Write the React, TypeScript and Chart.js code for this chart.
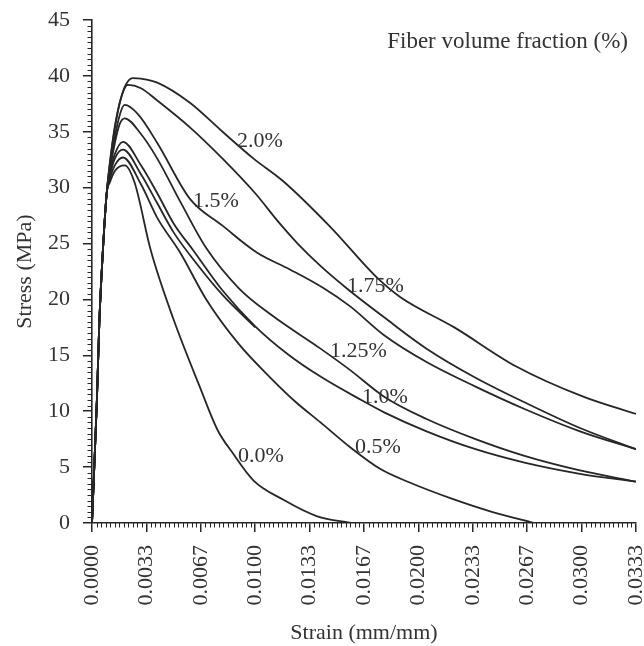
import React, { useEffect, useRef } from 'react';
import { Chart, registerables } from 'chart.js';

Chart.register(...registerables);

const FONT = "'Liberation Serif', 'Times New Roman', serif";
const INK = '#262626';
const TEXT = '#333333';

// Tick labels
const X_TICK_LABELS = ['0.0000', '0.0033', '0.0067', '0.0100', '0.0133', '0.0167', '0.0200', '0.0233', '0.0267', '0.0300', '0.0333'];
const Y_TICK_VALUES = [0, 5, 10, 15, 20, 25, 30, 35, 40, 45];
const X_MAX = 1 / 30;
const Y_MAX = 45;

// Series: strain (mm/mm) and stress (MPa)
const S200_X = [0, 0.0003, 0.00045, 0.00068, 0.0009, 0.0011, 0.0014, 0.0017, 0.002, 0.0025, 0.003, 0.004, 0.006, 0.008, 0.0099, 0.0117, 0.0146, 0.0175, 0.0189, 0.0222, 0.026, 0.0301, 0.03333];
const S200_Y = [0, 11, 18, 24.7, 29.5, 32.3, 35.5, 37.6, 39.0, 39.8, 39.75, 39.4, 37.6, 35.0, 32.6, 30.6, 26.5, 21.9, 20.2, 17.5, 14.0, 11.3, 9.75];

const S175_X = [0, 0.0003, 0.00045, 0.00068, 0.0009, 0.0011, 0.0014, 0.0017, 0.0022, 0.003, 0.004, 0.006, 0.008, 0.01, 0.0115, 0.0126, 0.014, 0.0156, 0.0179, 0.0205, 0.0235, 0.0265, 0.0299, 0.03333];
const S175_Y = [0, 11, 18, 24.7, 29.5, 32.2, 35.3, 37.6, 39.2, 38.9, 37.8, 35.4, 32.6, 29.5, 26.8, 25.0, 23.0, 21.0, 18.4, 15.6, 13.0, 10.8, 8.5, 6.6];

const S150_X = [0, 0.0003, 0.00045, 0.00068, 0.0009, 0.0011, 0.0014, 0.0017, 0.002, 0.0028, 0.004, 0.006, 0.008, 0.0101, 0.0121, 0.0142, 0.0158, 0.0179, 0.0205, 0.0235, 0.0265, 0.0299, 0.03333];
const S150_Y = [0, 11, 18, 24.7, 29.5, 31.8, 34.5, 36.5, 37.4, 36.6, 34.0, 29.0, 26.6, 24.2, 22.7, 21.0, 19.4, 16.8, 14.4, 12.2, 10.2, 8.2, 6.6];

const S125_X = [0, 0.0003, 0.00045, 0.00068, 0.0009, 0.0011, 0.0014, 0.0017, 0.002, 0.003, 0.004, 0.0055, 0.007, 0.009, 0.011, 0.014, 0.0158, 0.0179, 0.0205, 0.0235, 0.0265, 0.0299, 0.03333];
const S125_Y = [0, 11, 18, 24.7, 29.5, 31.6, 34.0, 35.7, 36.2, 34.8, 32.6, 28.5, 24.6, 21.0, 18.6, 15.6, 13.7, 11.3, 9.3, 7.5, 6.0, 4.7, 3.7];

const S100_X = [0, 0.0003, 0.00045, 0.00068, 0.0009, 0.0011, 0.0014, 0.0019, 0.003, 0.004, 0.005, 0.0062, 0.008, 0.01, 0.012, 0.014, 0.0165, 0.0179, 0.0205, 0.0235, 0.0265, 0.0299, 0.03333];
const S100_Y = [0, 11, 18, 24.7, 29.5, 31.3, 33.0, 34.1, 32.0, 29.5, 26.8, 24.4, 20.8, 17.6, 15.1, 13.1, 11.0, 9.9, 8.2, 6.6, 5.4, 4.4, 3.7];

const S075_X = [0, 0.0003, 0.00045, 0.00068, 0.0009, 0.0011, 0.0014, 0.0019, 0.003, 0.004, 0.005, 0.0062, 0.008, 0.01];
const S075_Y = [0, 11, 18, 24.7, 29.5, 31.1, 32.6, 33.4, 31.2, 28.6, 26.0, 23.6, 20.4, 17.5];

const S050_X = [0, 0.0003, 0.00045, 0.00068, 0.0009, 0.0011, 0.0014, 0.0019, 0.003, 0.004, 0.0054, 0.007, 0.009, 0.011, 0.0125, 0.014, 0.0158, 0.0177, 0.0195, 0.022, 0.0245, 0.0271];
const S050_Y = [0, 11, 18, 24.7, 29.5, 30.8, 32.0, 32.7, 30.3, 27.3, 24.2, 20.0, 16.0, 12.9, 10.8, 9.0, 6.8, 4.8, 3.6, 2.2, 1.0, 0];

const S000_X = [0, 0.0003, 0.00045, 0.00068, 0.0009, 0.0011, 0.0014, 0.002, 0.0026, 0.0036, 0.005, 0.0066, 0.0077, 0.0086, 0.0099, 0.0117, 0.0138, 0.0159];
const S000_Y = [0, 11, 18, 24.7, 29.5, 30.5, 31.5, 32.0, 30.5, 24.4, 18.2, 12.2, 8.3, 6.3, 3.8, 2.1, 0.6, 0];

const SERIES_X = [S200_X, S175_X, S150_X, S125_X, S100_X, S075_X, S050_X, S000_X];
const SERIES_Y = [S200_Y, S175_Y, S150_Y, S125_Y, S100_Y, S075_Y, S050_Y, S000_Y];

// Curve labels (anchored at left/baseline, in data coordinates)
const CURVE_LABELS = ['2.0%', '1.5%', '1.75%', '1.25%', '1.0%', '0.5%', '0.0%'];
const CURVE_LABEL_STRAIN = [0.00889, 0.00619, 0.01563, 0.01458, 0.01654, 0.01612, 0.00895];
const CURVE_LABEL_STRESS = [33.6, 28.3, 20.7, 14.85, 10.75, 6.26, 5.46];
const LEGEND_TITLE = 'Fiber volume fraction (%)';

const minorTicks = {
  id: 'minorTicks',
  afterDraw(chart: any) {
    const { ctx, chartArea } = chart;
    const x = chart.scales.x;
    const y = chart.scales.y;
    ctx.save();
    ctx.strokeStyle = INK;
    ctx.lineWidth = 1;
    ctx.beginPath();
    for (let i = 0; i <= 120; i++) {
      if (i % 12 === 0) continue;
      const px = Math.round(x.getPixelForValue(i / 3600)) + 0.5;
      ctx.moveTo(px, chartArea.bottom);
      ctx.lineTo(px, chartArea.bottom + 4.5);
    }
    for (let i = 0; i <= 90; i++) {
      if (i % 10 === 0) continue;
      const py = Math.round(y.getPixelForValue(i / 2)) + 0.5;
      ctx.moveTo(chartArea.left, py);
      ctx.lineTo(chartArea.left - 4.5, py);
    }
    ctx.stroke();
    ctx.restore();
  },
};

const annotations = {
  id: 'annotations',
  afterDraw(chart: any) {
    const { ctx, chartArea } = chart;
    const x = chart.scales.x;
    const y = chart.scales.y;
    ctx.save();
    ctx.fillStyle = TEXT;
    ctx.font = `22px ${FONT}`;
    ctx.textAlign = 'left';
    ctx.textBaseline = 'alphabetic';
    CURVE_LABELS.forEach((t, i) => {
      ctx.fillText(t, x.getPixelForValue(CURVE_LABEL_STRAIN[i]), y.getPixelForValue(CURVE_LABEL_STRESS[i]));
    });
    ctx.font = `23px ${FONT}`;
    ctx.textAlign = 'right';
    ctx.fillText(LEGEND_TITLE, chartArea.right - 8, chartArea.top + 28);
    ctx.restore();
  },
};

export default function App() {
  const ref = useRef<HTMLCanvasElement | null>(null);

  useEffect(() => {
    if (!ref.current) return;
    const datasets = SERIES_X.map((xs, si) => ({
      data: xs.map((v, i) => ({ x: v, y: SERIES_Y[si][i] })),
      borderColor: INK,
      borderWidth: 1.8,
      pointRadius: 0,
      showLine: true,
      fill: false,
      cubicInterpolationMode: 'monotone' as const,
    }));

    const chart = new Chart(ref.current, {
      type: 'scatter',
      data: { datasets },
      plugins: [minorTicks, annotations],
      options: {
        animation: false,
        responsive: false,
        maintainAspectRatio: false,
        layout: { padding: { left: 0, right: 8, top: 20, bottom: 0 } },
        plugins: { legend: { display: false }, tooltip: { enabled: false } },
        scales: {
          x: {
            type: 'linear',
            min: 0,
            max: X_MAX,
            afterBuildTicks: (s: any) => {
              s.ticks = X_TICK_LABELS.map((_, i) => ({ value: i / 300 }));
            },
            afterFit: (s: any) => {
              s.height = 123;
              s.paddingLeft = 0;
              s.paddingRight = 0;
            },
            ticks: {
              autoSkip: false,
              minRotation: 90,
              maxRotation: 90,
              padding: 13,
              color: TEXT,
              font: { family: FONT, size: 22 },
              callback: (_v: any, i: number) => X_TICK_LABELS[i],
            },
            grid: { drawOnChartArea: false, drawTicks: true, tickLength: 9, color: INK, lineWidth: 1.5 },
            border: { display: true, color: INK, width: 1.6 },
            title: {
              display: true,
              text: 'Strain (mm/mm)',
              color: TEXT,
              font: { family: FONT, size: 22 },
              padding: { top: 2, bottom: 0 },
            },
          },
          y: {
            type: 'linear',
            min: 0,
            max: Y_MAX,
            afterBuildTicks: (s: any) => {
              s.ticks = Y_TICK_VALUES.map((v) => ({ value: v }));
            },
            afterFit: (s: any) => {
              s.width = 92;
              s.paddingTop = 0;
              s.paddingBottom = 0;
            },
            ticks: {
              padding: 13,
              color: TEXT,
              font: { family: FONT, size: 22 },
              callback: (v: any) => String(v),
            },
            grid: { drawOnChartArea: false, drawTicks: true, tickLength: 9, color: INK, lineWidth: 1.5 },
            border: { display: true, color: INK, width: 1.6 },
            title: {
              display: true,
              text: 'Stress (MPa)',
              color: TEXT,
              font: { family: FONT, size: 22 },
              padding: { top: 12, bottom: 0 },
            },
          },
        },
      },
    });
    return () => chart.destroy();
  }, []);

  return (
    <div style={{ position: 'fixed', left: 0, top: 0, width: 644, height: 646, background: '#fff' }}>
      <canvas ref={ref} width={644} height={646} style={{ display: 'block', width: 644, height: 646 }} />
    </div>
  );
}
